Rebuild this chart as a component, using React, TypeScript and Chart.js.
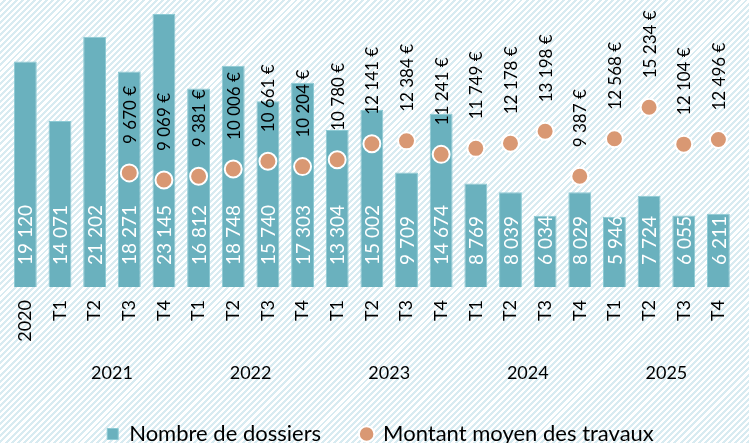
import React, { useEffect, useRef } from "react";
import { Chart, registerables } from "chart.js";

Chart.register(...registerables);

const categories = ["2020", "T1", "T2", "T3", "T4", "T1", "T2", "T3", "T4", "T1", "T2", "T3", "T4", "T1", "T2", "T3", "T4", "T1", "T2", "T3", "T4"];
const years = ["2021", "2022", "2023", "2024", "2025"];
const yearFirstIndex = [1, 5, 9, 13, 17];
const yearLastIndex = [4, 8, 12, 16, 20];
const dossiers = [19120, 14071, 21202, 18271, 23145, 16812, 18748, 15740, 17303, 13304, 15002, 9709, 14674, 8769, 8039, 6034, 8029, 5946, 7724, 6055, 6211];
const montant = [null, null, null, 9670, 9069, 9381, 10006, 10661, 10204, 10780, 12141, 12384, 11241, 11749, 12178, 13198, 9387, 12568, 15234, 12104, 12496];

const FONT = "Lato, 'Open Sans', sans-serif";
const fmt = (v: number) => String(v).replace(/\B(?=(\d{3})+(?!\d))/g, "\u00a0");

const labelPlugin = {
  id: "valueLabels",
  afterDatasetsDraw(chart: any) {
    const ctx = chart.ctx;
    ctx.save();
    ctx.textAlign = "left";
    ctx.textBaseline = "middle";
    const barMeta = chart.getDatasetMeta(0);
    ctx.font = `19px ${FONT}`;
    ctx.fillStyle = "#ffffff";
    barMeta.data.forEach((el: any, i: number) => {
      const { x, base } = el.getProps(["x", "base"], true);
      ctx.save();
      ctx.translate(x + 1, base - 22);
      ctx.rotate(-Math.PI / 2);
      ctx.fillText(fmt(dossiers[i]), 0, 0);
      ctx.restore();
    });
    const lineMeta = chart.getDatasetMeta(1);
    ctx.font = `17px ${FONT}`;
    ctx.fillStyle = "#000000";
    lineMeta.data.forEach((el: any, i: number) => {
      const v = montant[i];
      if (v == null) return;
      const { x, y } = el.getProps(["x", "y"], true);
      ctx.save();
      ctx.translate(x + 1, y - 29);
      ctx.rotate(-Math.PI / 2);
      ctx.fillText(fmt(v) + "\u00a0€", 0, 0);
      ctx.restore();
    });
    ctx.restore();
  },
  afterDraw(chart: any) {
    const ctx = chart.ctx;
    const xs = chart.scales.x;
    ctx.save();
    ctx.font = `18px ${FONT}`;
    ctx.fillStyle = "#000000";
    ctx.textAlign = "center";
    ctx.textBaseline = "middle";
    years.forEach((y, k) => {
      const x = (xs.getPixelForValue(yearFirstIndex[k]) + xs.getPixelForValue(yearLastIndex[k])) / 2;
      ctx.fillText(y, x, chart.chartArea.bottom + 86);
    });
    ctx.restore();
  },
};

export default function App() {
  const ref = useRef<HTMLCanvasElement>(null);
  useEffect(() => {
    if (!ref.current) return;
    const chart = new Chart(ref.current, {
      type: "bar",
      data: {
        labels: categories,
        datasets: [
          {
            type: "bar",
            label: "Nombre de dossiers",
            data: dossiers,
            backgroundColor: "#6ab1be",
            borderColor: "#8ccad4",
            borderWidth: 1,
            barPercentage: 0.66,
            categoryPercentage: 1,
            pointStyle: "rect",
            order: 2,
          } as any,
          {
            type: "line",
            label: "Montant moyen des travaux",
            data: montant,
            showLine: false,
            pointRadius: 8.5,
            pointHoverRadius: 8.5,
            pointBackgroundColor: "#d99873",
            pointBorderColor: "#ffffff",
            pointBorderWidth: 2,
            backgroundColor: "#d99873",
            borderColor: "#d99873",
            pointStyle: "circle",
            order: 1,
          } as any,
        ],
      },
      options: {
        responsive: false,
        animation: false,
        layout: { padding: 0, autoPadding: false },
        scales: {
          x: {
            grid: { display: false, drawTicks: false },
            border: { display: false },
            ticks: {
              autoSkip: false,
              minRotation: 90,
              maxRotation: 90,
              padding: 13,
              color: "#000000",
              font: { family: FONT, size: 18 },
            },
            afterFit: (scale: any) => {
              scale.height = 96;
            },
          },
          y: {
            display: false,
            min: 0,
            max: 25000,
          },
        },
        plugins: {
          legend: {
            position: "bottom",
            labels: {
              usePointStyle: true,
              boxWidth: 11,
              boxHeight: 11,
              padding: 40,
              color: "#000000",
              font: { family: FONT, size: 22 },
              sort: (a: any, b: any) => a.datasetIndex - b.datasetIndex,
            },
          },
          tooltip: { enabled: false },
        },
      },
      plugins: [labelPlugin],
    });
    return () => chart.destroy();
  }, []);
  return (
    <div
      style={{
        position: "fixed",
        left: 0,
        top: 0,
        width: 749,
        height: 443,
        overflow: "hidden",
        background: "repeating-linear-gradient(135deg, #ffffff 0px, #ffffff 2.2px, #d8ebf1 2.2px, #d8ebf1 4.3px)",
      }}
    >
      <canvas
        ref={ref}
        width={745}
        height={463}
        style={{ position: "absolute", left: 8, top: -8, width: 745, height: 463 }}
      />
    </div>
  );
}
